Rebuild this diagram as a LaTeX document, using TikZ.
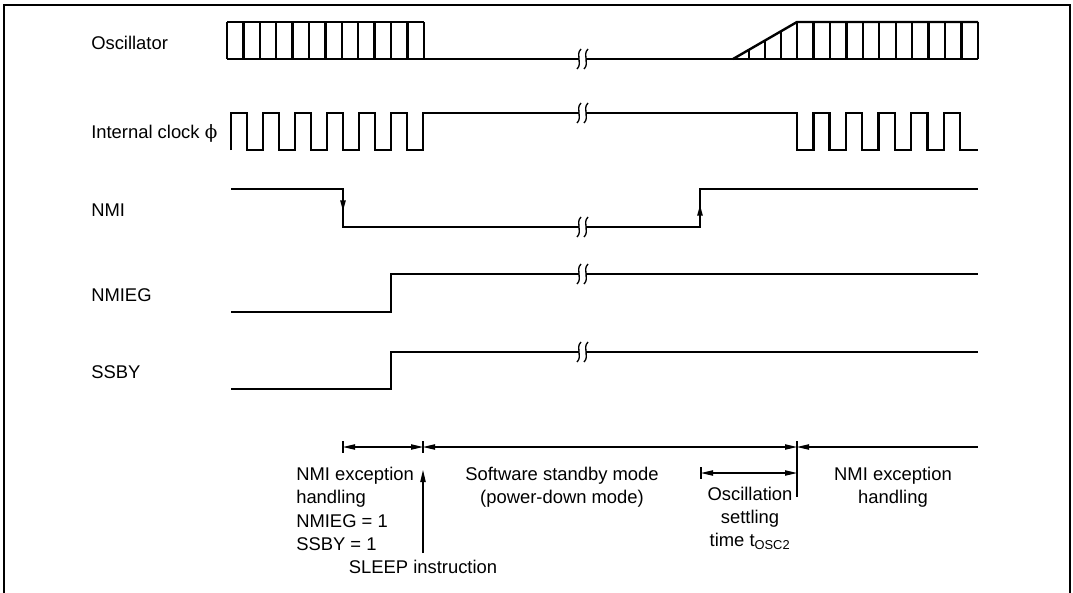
\documentclass[tikz,border=0pt]{standalone}
\usepackage{fontspec}
\setmainfont{Liberation Sans}
\newfontfamily\phifont{DejaVu Serif}
\usepackage{tikz}
\usetikzlibrary{arrows.meta}
\tikzstyle{signal} = [line width=1.8pt]
\tikzstyle{dim} = [line width=0.8pt]
\tikzstyle{signame} = [anchor=base west, inner sep=0pt]
\tikzstyle{note} = [inner sep=0pt, align=center]
% break mark on a wave line
\newcommand{\wavebreak}[2]{%
  \draw[line width=1pt] (#1+2,#2-10) .. controls (#1-4,#2-4) and (#1+4,#2+4) .. (#1-2,#2+10);
  \draw[line width=1pt] (#1+9,#2-10) .. controls (#1+3,#2-4) and (#1+11,#2+4) .. (#1+5,#2+10);
}

\begin{document}
\begin{tikzpicture}[x=0.75pt, y=-0.75pt, >={Triangle[length=9pt,width=4pt]},
    font=\fontsize{13.8}{17.5}\selectfont]
    \useasboundingbox (0,0) rectangle (1073,592);
    \draw[line width=1.5pt] (3.5,600) -- (3.5,5) -- (1070,5) -- (1070,600);

    % signal names
    \node [signame] (osc) at (91,49.6) {Oscillator};
    \node [signame] (clk) at (91,138.6) {Internal clock {\phifont ϕ}};
    \node [signame] (nmi) at (91,216.6) {NMI};
    \node [signame] (nmieg) at (91,301.6) {NMIEG};
    \node [signame] (ssby) at (91,378.6) {SSBY};

    % oscillator
    \draw [signal] (227,22) -- (424,22);
    \draw [signal] (227,59) -- (579,59);
    \foreach \k in {0,...,12}
        \draw [signal] (227+16.4*\k,59) -- (227+16.4*\k,22);
    \draw [signal] (586,59) -- (978,59);
    \draw [signal] (733,59) -- (797,22) -- (978,22);
    \foreach \k in {1,2,3}
        \draw [signal] (733+16*\k,59) -- (733+16*\k,59-9.25*\k);
    \foreach \k in {0,...,11}
        \draw [signal] (797+16.45*\k,59) -- (797+16.45*\k,22);

    % internal clock
    \draw [signal] (231,150) foreach \k in {0,...,5} {
        -- (231+32*\k,113) -- (247+32*\k,113) -- (247+32*\k,150) -- (263+32*\k,150) }
        -- (423,113) -- (579,113);
    \draw [signal] (586,113) -- (797,113) foreach \k in {0,...,4} {
        -- (797+32.6*\k,150) -- (813.3+32.6*\k,150) -- (813.3+32.6*\k,113) -- (829.6+32.6*\k,113) }
        -- (960,150) -- (978,150);

    % NMI, NMIEG, SSBY
    \draw [signal] (231,189) -- (343,189) -- (343,227) -- (579,227);
    \draw [signal] (586,227) -- (700,227) -- (700,189) -- (978,189);
    \draw [line width=1.2pt, -{Triangle[length=8pt,width=4pt]}] (343,195) -- (343,211);
    \draw [line width=1.2pt, -{Triangle[length=8pt,width=4pt]}] (700,222) -- (700,205);
    \draw [signal] (231,312) -- (391,312) -- (391,274) -- (579,274);
    \draw [signal] (586,274) -- (978,274);
    \draw [signal] (231,389) -- (391,389) -- (391,352) -- (579,352);
    \draw [signal] (586,352) -- (978,352);

    \foreach \y in {59,113,227,274,352} {
        \wavebreak{579}{\y}
    }

    % periods
    \coordinate (d0) at (343,447);
    \coordinate (d1) at (423,447);
    \coordinate (d2) at (797,447);
    \coordinate (d3) at (978,447);
    \coordinate (s0) at (701,473);
    \coordinate (s1) at (797,473);
    \coordinate (sl) at (423,553);
    \draw [dim] (d0) ++(0,-6) -- ++(0,12);
    \draw [dim] (d1) ++(0,-6) -- ++(0,12);
    \draw [dim] (d2) ++(0,-6) -- ++(0,56);
    \draw [dim] (s0) ++(0,-6) -- ++(0,12);
    \draw [dim, <->] (d0) -- (d1);
    \draw [dim, <->] (d1) -- (d2);
    \draw [dim, <-] (d2) -- (d3);
    \draw [dim, <->] (s0) -- (s1);
    \draw [dim, ->] (sl) -- (423,470);

    \node [note, anchor=north west, align=left] (exc) at (296,467) {NMI exception\\handling\\NMIEG = 1\\SSBY = 1};
    \node [note, anchor=north] (sleep) at (423,560) {SLEEP instruction};
    \node [note, anchor=north] (standby) at (562,467) {Software standby mode\\(power-down mode)};
    \node [note, anchor=north] (settle) at (750,486.5) {Oscillation\\settling\\time t\textsubscript{OSC2}};
    \node [note, anchor=north] (exc2) at (893,467) {NMI exception\\handling};
\end{tikzpicture}
\end{document}
